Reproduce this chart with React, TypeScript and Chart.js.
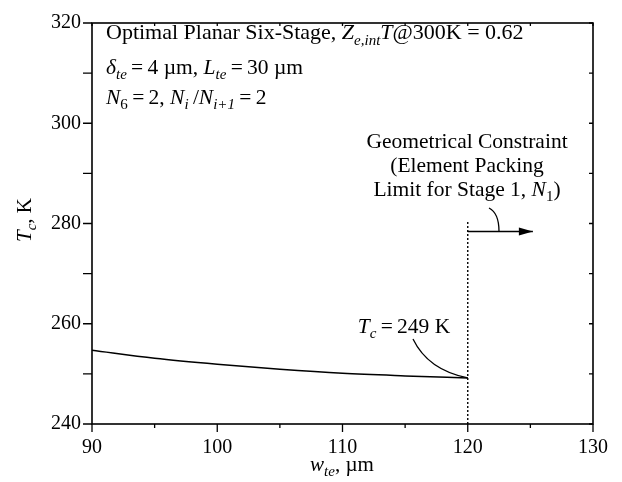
import React, { useEffect, useRef } from "react";
import { Chart, registerables } from "chart.js";

Chart.register(...registerables);

const widthValues = [90, 95, 100, 105, 110, 115, 120];
const tcValues = [254.7, 253.1, 251.9, 250.9, 250.1, 249.6, 249.2];
const constraintX = [120, 120];
const constraintY = [240, 280.7];
const arrowX = [120, 125.2];
const arrowY = [278.4, 278.4];
const xTickLabels = [90, 100, 110, 120, 130];
const yTickLabels = [240, 260, 280, 300, 320];

type Seg = { t: string; i?: boolean; s?: boolean };
const FONT = '"Liberation Serif", "Times New Roman", serif';
const TS = "\u2009";

function drawRich(ctx: CanvasRenderingContext2D, segs: Seg[], x: number, y: number, align: "left" | "center", size = 20) {
  const f = (sg: Seg) => `${sg.i ? "italic " : ""}${sg.s ? Math.round(size * 0.7) : size}px ${FONT}`;
  let w = 0;
  for (const sg of segs) { ctx.font = f(sg); w += ctx.measureText(sg.t).width; }
  let cx = align === "center" ? x - w / 2 : x;
  ctx.textBaseline = "alphabetic";
  ctx.textAlign = "left";
  for (const sg of segs) {
    ctx.font = f(sg);
    ctx.fillText(sg.t, cx, y + (sg.s ? size * 0.25 : 0));
    cx += ctx.measureText(sg.t).width;
  }
}

const decor = {
  id: "decor",
  afterDraw(chart: any) {
    const ctx: CanvasRenderingContext2D = chart.ctx;
    const xs = chart.scales.x;
    const ys = chart.scales.y;
    const { left, right, top, bottom } = chart.chartArea;
    ctx.save();
    ctx.strokeStyle = "#000";
    ctx.fillStyle = "#000";
    // frame
    ctx.lineWidth = 1.6;
    ctx.strokeRect(left, top, right - left, bottom - top);
    ctx.lineWidth = 1.3;
    ctx.beginPath();
    for (let v = 90; v <= 130; v += 5) {
      const px = xs.getPixelForValue(v);
      const major = v % 10 === 0;
      ctx.moveTo(px, bottom); ctx.lineTo(px, bottom + (major ? 8 : 4));
      ctx.moveTo(px, top); ctx.lineTo(px, top + 3);
    }
    for (let v = 240; v <= 320; v += 10) {
      const py = ys.getPixelForValue(v);
      ctx.moveTo(left, py); ctx.lineTo(left - 9, py);
      ctx.moveTo(right, py); ctx.lineTo(right - 4, py);
    }
    ctx.stroke();

    // arrowhead
    const ax = xs.getPixelForValue(arrowX[1]);
    const ay = ys.getPixelForValue(arrowY[1]);
    ctx.beginPath();
    ctx.moveTo(ax, ay);
    ctx.lineTo(ax - 14, ay - 4);
    ctx.lineTo(ax - 14, ay + 4);
    ctx.closePath();
    ctx.fill();

    // leader for constraint text
    ctx.lineWidth = 1.3;
    ctx.beginPath();
    ctx.moveTo(489, 208);
    ctx.quadraticCurveTo(499, 213, 499, ay);
    ctx.stroke();

    // leader for Tc label
    const ex = xs.getPixelForValue(120);
    const ey = ys.getPixelForValue(249.2);
    ctx.beginPath();
    ctx.moveTo(413, 339);
    ctx.quadraticCurveTo(428, 370, ex, ey);
    ctx.stroke();

    // texts
    drawRich(ctx, [
      { t: "Optimal Planar Six-Stage, " }, { t: "Z", i: true }, { t: "e,int", i: true, s: true },
      { t: "T", i: true }, { t: "@300K = 0.62" },
    ], 106, 39, "left", 22);
    drawRich(ctx, [
      { t: "δ", i: true }, { t: "te", i: true, s: true }, { t: TS + "=" + TS + "4 µm, " },
      { t: "L", i: true }, { t: "te", i: true, s: true }, { t: TS + "=" + TS + "30 µm" },
    ], 106, 74, "left", 21.5);
    drawRich(ctx, [
      { t: "N", i: true }, { t: "6", s: true }, { t: TS + "=" + TS + "2, " },
      { t: "N", i: true }, { t: "i", i: true, s: true }, { t: TS + "/" },
      { t: "N", i: true }, { t: "i+1", i: true, s: true }, { t: TS + "=" + TS + "2" },
    ], 106, 104, "left", 21.5);

    drawRich(ctx, [{ t: "Geometrical Constraint" }], 467, 148, "center", 21.5);
    drawRich(ctx, [{ t: "(Element Packing" }], 467, 172, "center", 21.5);
    drawRich(ctx, [{ t: "Limit for Stage 1, " }, { t: "N", i: true }, { t: "1", s: true }, { t: ")" }], 467, 196, "center", 21.5);

    drawRich(ctx, [{ t: "T", i: true }, { t: "c", i: true, s: true }, { t: TS + "=" + TS + "249 K" }], 404, 333, "center", 21.5);

    drawRich(ctx, [{ t: "w", i: true }, { t: "te", i: true, s: true }, { t: ", µm" }], 342, 471, "center", 21);

    ctx.save();
    ctx.translate(31, 220);
    ctx.rotate(-Math.PI / 2);
    drawRich(ctx, [{ t: "T", i: true }, { t: "c", i: true, s: true }, { t: ", K" }], 0, 0, "center", 21);
    ctx.restore();

    ctx.restore();
  },
};

export default function App() {
  const ref = useRef<HTMLCanvasElement | null>(null);
  useEffect(() => {
    if (!ref.current) return;
    const chart = new Chart(ref.current, {
      type: "line",
      data: {
        datasets: [
          {
            data: widthValues.map((x, i) => ({ x, y: tcValues[i] })),
            borderColor: "#000",
            borderWidth: 1.5,
            pointRadius: 0,
            cubicInterpolationMode: "monotone",
          },
          {
            data: constraintX.map((x, i) => ({ x, y: constraintY[i] })),
            borderColor: "#000",
            borderWidth: 1.4,
            borderDash: [2, 2],
            pointRadius: 0,
          },
          {
            data: arrowX.map((x, i) => ({ x, y: arrowY[i] })),
            borderColor: "#000",
            borderWidth: 1.4,
            pointRadius: 0,
          },
        ],
      },
      options: {
        animation: false,
        responsive: false,
        layout: { padding: { left: 0, top: 17, right: 29, bottom: 0 } },
        plugins: { legend: { display: false }, tooltip: { enabled: false } },
        scales: {
          x: {
            type: "linear",
            min: 90,
            max: 130,
            grid: { display: false, drawTicks: false },
            border: { display: false },
            afterFit: (s: any) => { s.height = 58; },
            afterBuildTicks: (s: any) => { s.ticks = xTickLabels.map((v) => ({ value: v })); },
            ticks: { color: "#000", padding: 12, font: { family: FONT, size: 20 }, maxRotation: 0 },
          },
          y: {
            min: 240,
            max: 320,
            grid: { display: false, drawTicks: false },
            border: { display: false },
            afterFit: (s: any) => { s.width = 92; },
            afterBuildTicks: (s: any) => { s.ticks = yTickLabels.map((v) => ({ value: v })); },
            ticks: { color: "#000", padding: 11, font: { family: FONT, size: 20 } },
          },
        },
      },
      plugins: [decor],
    });
    return () => chart.destroy();
  }, []);
  return (
    <div style={{ position: "absolute", left: 0, top: 0, width: 622, height: 482, background: "#fff" }}>
      <canvas ref={ref} width={622} height={482} style={{ display: "block" }} />
    </div>
  );
}
